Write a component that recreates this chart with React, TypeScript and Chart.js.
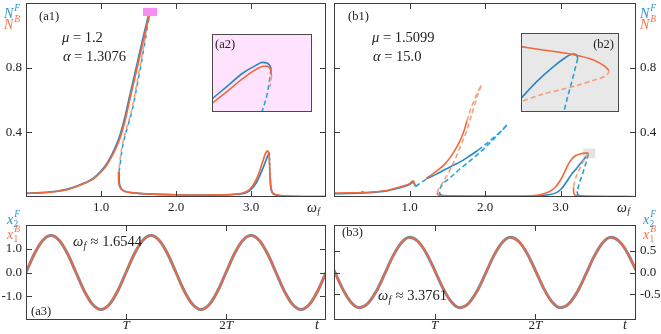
import React, { useEffect, useRef } from "react";
import { Chart, registerables } from "chart.js";
Chart.register(...registerables);

type P = [number, number];

// ---------- colours ----------
const C_BLUE = "#2a86c0";
const C_BLUE_DASH = "#27a0e0";
const C_ORANGE = "#f2673c";
const C_ORANGE_DASH = "#f4a07c";
const C_BLUE_TXT = "#2e95cf";
const C_ORANGE_TXT = "#f2724b";
const C_AXIS = "#3c3c3c";
const C_TEXT = "#222222";
const FONT = '"Liberation Serif", "Times New Roman", serif';

// ---------- (a1) data ----------
const a1XTicks = [1, 2, 3];
const a1XTickLabels = ["1.0", "2.0", "3.0"];
const a1YTicks = [0.4, 0.8];
const a1YTickLabels = ["0.4", "0.8"];
const a1RiseB: P[] = [[0, 0.022], [0.2, 0.026], [0.4, 0.034], [0.55, 0.046], [0.65, 0.06], [0.72, 0.073], [0.8, 0.088], [0.9, 0.112], [1.0, 0.155], [1.08, 0.2], [1.16, 0.265], [1.25, 0.36], [1.32, 0.472], [1.39, 0.615], [1.46, 0.755], [1.52, 0.877], [1.58, 0.998], [1.648, 1.13]];
const a1RiseF: P[] = [[0, 0.023], [0.2, 0.027], [0.4, 0.035], [0.54, 0.047], [0.64, 0.061], [0.71, 0.074], [0.79, 0.089], [0.89, 0.113], [0.99, 0.156], [1.07, 0.201], [1.15, 0.266], [1.238, 0.361], [1.308, 0.473], [1.378, 0.616], [1.448, 0.756], [1.508, 0.878], [1.568, 0.999], [1.636, 1.13]];
const a1UnstB: P[] = [[1.65, 1.125], [1.63, 1.1], [1.575, 0.95], [1.52, 0.805], [1.465, 0.67], [1.41, 0.54], [1.35, 0.44], [1.3, 0.355], [1.265, 0.27], [1.244, 0.19], [1.232, 0.155]];
const a1UnstF: P[] = [[1.658, 1.125], [1.638, 1.1], [1.583, 0.95], [1.528, 0.805], [1.473, 0.67], [1.418, 0.54], [1.358, 0.44], [1.308, 0.355], [1.273, 0.27], [1.252, 0.19], [1.24, 0.155]];
const a1LowB: P[] = [[1.232, 0.155], [1.235, 0.1], [1.245, 0.07], [1.27, 0.048], [1.32, 0.034], [1.4, 0.027], [1.5, 0.023], [1.7, 0.018], [2.0, 0.014], [2.3, 0.012], [2.6, 0.013], [2.8, 0.018], [2.9, 0.026], [2.98, 0.045], [3.05, 0.09], [3.1, 0.14], [3.15, 0.21], [3.19, 0.265], [3.22, 0.285], [3.24, 0.26], [3.25, 0.17], [3.26, 0.08], [3.28, 0.035], [3.33, 0.015], [3.45, 0.006], [3.7, 0.003], [4.0, 0.002]];
const a1LowF: P[] = [[1.24, 0.155], [1.243, 0.1], [1.253, 0.07], [1.278, 0.048], [1.33, 0.034], [1.4, 0.027], [1.5, 0.023], [1.7, 0.018], [2.0, 0.014], [2.3, 0.012], [2.6, 0.013], [2.8, 0.017], [2.9, 0.022], [2.98, 0.038], [3.06, 0.08], [3.12, 0.135], [3.17, 0.19], [3.21, 0.24], [3.245, 0.275]];
const a1PeakDashF: P[] = [[3.245, 0.275], [3.25, 0.2], [3.255, 0.13]];
const a1TailF: P[] = [[3.255, 0.13], [3.262, 0.07], [3.28, 0.03], [3.33, 0.013], [3.45, 0.006], [4.0, 0.002]];
const a1ZoomBoxX: P = [1.56, 1.75];
const a1ZoomBoxY: P = [1.12, 1.17];

// ---------- (a2) inset data (inset window coordinates) ----------
const a2SolidF: P[] = [[0, 0.167], [0.142, 0.32], [0.31, 0.5], [0.45, 0.605], [0.5, 0.636], [0.55, 0.627], [0.58, 0.59], [0.592, 0.55]];
const a2DashF: P[] = [[0.592, 0.55], [0.575, 0.4], [0.55, 0.22], [0.5, 0.0], [0.49, -0.05]];
const a2SolidB: P[] = [[0, 0.11], [0.142, 0.254], [0.31, 0.43], [0.46, 0.56], [0.53, 0.59], [0.57, 0.575], [0.588, 0.53], [0.595, 0.47]];
const a2DashB: P[] = [[0.595, 0.47], [0.59, 0.4], [0.58, 0.32]];

// ---------- (b1) data ----------
const b1XTicks = [1, 2, 3];
const b1XTickLabels = ["1.0", "2.0", "3.0"];
const b1YTicks = [0.4, 0.8];
const b1YTickLabels = ["0.4", "0.8"];
const b1LeftB: P[] = [[0, 0.024], [0.2, 0.026], [0.36, 0.028], [0.38, 0.034], [0.4, 0.028], [0.55, 0.032], [0.7, 0.04], [0.81, 0.054], [0.92, 0.068], [1.0, 0.083], [1.05, 0.1], [1.065, 0.085], [1.08, 0.068]];
const b1LeftF: P[] = [[0, 0.02], [0.2, 0.022], [0.4, 0.025], [0.55, 0.03], [0.7, 0.038], [0.81, 0.05], [0.92, 0.063], [1.0, 0.077], [1.05, 0.092], [1.065, 0.08], [1.08, 0.065]];
const b1KinkDashF: P[] = [[1.08, 0.065], [1.15, 0.088], [1.23, 0.113]];
const b1UpB: P[] = [[1.22, 0.115], [1.3, 0.14], [1.4, 0.175], [1.47, 0.205], [1.54, 0.245], [1.6, 0.288], [1.65, 0.33], [1.69, 0.37], [1.73, 0.42], [1.76, 0.47]];
const b1UpDashB: P[] = [[1.76, 0.47], [1.8, 0.53], [1.85, 0.59], [1.9, 0.645], [1.95, 0.69]];
const b1RetDashB: P[] = [[1.95, 0.69], [1.91, 0.64], [1.86, 0.565], [1.81, 0.49], [1.75, 0.4], [1.69, 0.33], [1.62, 0.25], [1.55, 0.18], [1.48, 0.12], [1.42, 0.075], [1.38, 0.045], [1.365, 0.025]];
const b1UpF: P[] = [[1.23, 0.113], [1.35, 0.14], [1.47, 0.17], [1.58, 0.196], [1.69, 0.222], [1.8, 0.255], [1.91, 0.29]];
const b1UpDashF: P[] = [[1.91, 0.29], [2.02, 0.33], [2.13, 0.373], [2.22, 0.41], [2.29, 0.445]];
const b1RetDashF: P[] = [[2.29, 0.445], [2.15, 0.375], [2.0, 0.305], [1.88, 0.255], [1.76, 0.208], [1.66, 0.17], [1.58, 0.136], [1.5, 0.105], [1.45, 0.085], [1.42, 0.065], [1.4, 0.045], [1.395, 0.03]];
const b1LowB: P[] = [[1.365, 0.025], [1.38, 0.013], [1.42, 0.009], [1.5, 0.007], [1.8, 0.005], [2.2, 0.004], [2.5, 0.005], [2.65, 0.009], [2.75, 0.016], [2.85, 0.032], [2.93, 0.06], [3.0, 0.105], [3.05, 0.15], [3.1, 0.2], [3.15, 0.235], [3.2, 0.255], [3.27, 0.268], [3.37, 0.272]];
const b1PeakDashB: P[] = [[3.37, 0.272], [3.34, 0.25], [3.29, 0.21], [3.25, 0.17], [3.21, 0.13], [3.185, 0.09], [3.172, 0.06]];
const b1TailB: P[] = [[3.172, 0.06], [3.175, 0.03], [3.185, 0.015], [3.2, 0.01], [3.3, 0.005], [3.6, 0.003], [4.0, 0.002]];
const b1LowF: P[] = [[1.395, 0.03], [1.41, 0.014], [1.45, 0.009], [1.6, 0.006], [2.0, 0.004], [2.5, 0.004], [2.7, 0.006], [2.82, 0.012], [2.93, 0.024], [3.0, 0.045], [3.06, 0.08], [3.15, 0.143], [3.21, 0.175], [3.26, 0.205], [3.32, 0.24], [3.37, 0.267]];
const b1PeakDashF: P[] = [[3.37, 0.267], [3.345, 0.225], [3.32, 0.184], [3.29, 0.14], [3.26, 0.1], [3.235, 0.06], [3.22, 0.035]];
const b1TailF: P[] = [[3.22, 0.035], [3.23, 0.015], [3.26, 0.008], [3.4, 0.004], [4.0, 0.002]];
const b1ZoomBoxX: P = [3.3, 3.46];
const b1ZoomBoxY: P = [0.24, 0.3];

// ---------- (b2) inset data (inset window coordinates) ----------
const b2SolidB: P[] = [[0, 0.828], [0.224, 0.785], [0.5, 0.734], [0.741, 0.657], [0.862, 0.571], [0.897, 0.528]];
const b2DashB: P[] = [[0.897, 0.528], [0.89, 0.49], [0.86, 0.455], [0.75, 0.405], [0.569, 0.335], [0.4, 0.28], [0.224, 0.227], [0, 0.129]];
const b2SolidF: P[] = [[0, 0.172], [0.155, 0.378], [0.328, 0.571], [0.466, 0.7], [0.534, 0.734], [0.569, 0.72], [0.579, 0.678]];
const b2DashF: P[] = [[0.579, 0.678], [0.517, 0.378], [0.448, 0.056], [0.435, -0.02]];

// ---------- (a3) / (b3) time series ----------
const tGrid = [0, 0.083, 0.167, 0.25, 0.333, 0.417, 0.5, 0.583, 0.667, 0.75, 0.833, 0.917, 1, 1.083, 1.167, 1.25, 1.333, 1.417, 1.5, 1.583, 1.667, 1.75, 1.833, 1.917, 2, 2.083, 2.167, 2.25, 2.333, 2.417, 2.5, 2.583, 2.667, 2.75, 2.833, 2.917, 3];
const a3X2F = [0, 0.78, 1.35, 1.56, 1.35, 0.78, 0, -0.78, -1.35, -1.56, -1.35, -0.78, 0, 0.78, 1.35, 1.56, 1.35, 0.78, 0, -0.78, -1.35, -1.56, -1.35, -0.78, 0, 0.78, 1.35, 1.56, 1.35, 0.78, 0, -0.78, -1.35, -1.56, -1.35, -0.78, 0];
const a3X1B = [0, 0.78, 1.35, 1.56, 1.35, 0.78, 0, -0.78, -1.35, -1.56, -1.35, -0.78, 0, 0.78, 1.35, 1.56, 1.35, 0.78, 0, -0.78, -1.35, -1.56, -1.35, -0.78, 0, 0.78, 1.35, 1.56, 1.35, 0.78, 0, -0.78, -1.35, -1.56, -1.35, -0.78, 0];
const b3X2F = [0.05, -0.36, -0.67, -0.8, -0.71, -0.44, -0.05, 0.36, 0.67, 0.8, 0.71, 0.44, 0.05, -0.36, -0.67, -0.8, -0.71, -0.44, -0.05, 0.36, 0.67, 0.8, 0.71, 0.44, 0.05, -0.36, -0.67, -0.8, -0.71, -0.44, -0.05, 0.36, 0.67, 0.8, 0.71, 0.44, 0.05];
const b3X1B = [0.05, -0.36, -0.67, -0.8, -0.71, -0.44, -0.05, 0.36, 0.67, 0.8, 0.71, 0.44, 0.05, -0.36, -0.67, -0.8, -0.71, -0.44, -0.05, 0.36, 0.67, 0.8, 0.71, 0.44, 0.05, -0.36, -0.67, -0.8, -0.71, -0.44, -0.05, 0.36, 0.67, 0.8, 0.71, 0.44, 0.05];
const tTicks = [1, 2];
const a3YTicks = [-1, 0, 1];
const a3YTickLabels = ["-1.0", "0.0", "1.0"];
const b3YTicks = [-0.5, 0, 0.5];
const b3YTickLabels = ["-0.5", "0.0", "0.5"];

// ---------- text helpers ----------
type Part = { t: string; it?: boolean; sup?: string; sub?: string };
type TextItem = { parts: Part[]; x: number; y: number; size: number; color?: string; align?: "left" | "center" | "right" };

const isLetter = (s: string) => /[A-Za-z]/.test(s);
const fontOf = (it: boolean | undefined, size: number) => `${it ? "italic " : ""}${size}px ${FONT}`;

function drawMath(ctx: CanvasRenderingContext2D, item: TextItem, ox: number, oy: number) {
  const { parts, size } = item;
  const small = size * 0.68;
  const widths = parts.map((p) => {
    ctx.font = fontOf(p.it, size);
    const w = ctx.measureText(p.t).width;
    let s = 0;
    if (p.sup) { ctx.font = fontOf(isLetter(p.sup), small); s = Math.max(s, ctx.measureText(p.sup).width); }
    if (p.sub) { ctx.font = fontOf(isLetter(p.sub), small); s = Math.max(s, ctx.measureText(p.sub).width); }
    return w + (s ? s + 1 : 0);
  });
  const total = widths.reduce((a, b) => a + b, 0);
  let x = item.x - ox;
  if (item.align === "center") x -= total / 2;
  else if (item.align === "right") x -= total;
  const y = item.y - oy;
  ctx.fillStyle = item.color || C_TEXT;
  ctx.textBaseline = "middle";
  ctx.textAlign = "left";
  parts.forEach((p, i) => {
    ctx.font = fontOf(p.it, size);
    ctx.fillText(p.t, x, y);
    const w = ctx.measureText(p.t).width;
    if (p.sup) { ctx.font = fontOf(isLetter(p.sup), small); ctx.fillText(p.sup, x + w + 1, y - size * 0.4); }
    if (p.sub) { ctx.font = fontOf(isLetter(p.sub), small); ctx.fillText(p.sub, x + w + 0.3, y + size * 0.32); }
    x += widths[i];
  });
}

// ---------- frame plugin ----------
type Box = { x: P; y: P; color: string; front?: boolean };
type FrameSpec = {
  ox: number; oy: number;
  fill?: string;
  border: string;
  tickLen: number;
  xTicks: number[]; yTicks: number[];
  xLabels?: Part[][]; yLabels?: string[];
  ySide?: "left" | "right";
  xLabelGap?: number;
  boxes?: Box[];
  texts: TextItem[];
};

function framePlugin(spec: FrameSpec) {
  const drawBoxes = (chart: any, front: boolean) => {
    const { ctx } = chart;
    const xs = chart.scales.x, ys = chart.scales.y;
    (spec.boxes || []).filter((b) => !!b.front === front).forEach((b) => {
      const x0 = xs.getPixelForValue(b.x[0]), x1 = xs.getPixelForValue(b.x[1]);
      const y0 = ys.getPixelForValue(b.y[1]), y1 = ys.getPixelForValue(b.y[0]);
      ctx.fillStyle = b.color;
      ctx.fillRect(x0, y0, x1 - x0, y1 - y0);
    });
  };
  return {
    id: "frame",
    beforeDatasetsDraw(chart: any) {
      const { ctx, chartArea: a } = chart;
      ctx.save();
      if (spec.fill) { ctx.fillStyle = spec.fill; ctx.fillRect(a.left, a.top, a.right - a.left, a.bottom - a.top); }
      drawBoxes(chart, false);
      ctx.restore();
    },
    afterDatasetsDraw(chart: any) {
      const { ctx, chartArea: a } = chart;
      const xs = chart.scales.x, ys = chart.scales.y;
      ctx.save();
      drawBoxes(chart, true);
      ctx.strokeStyle = spec.border;
      ctx.lineWidth = 1;
      ctx.strokeRect(a.left + 0.5, a.top + 0.5, a.right - a.left - 1, a.bottom - a.top - 1);
      ctx.beginPath();
      spec.xTicks.forEach((v) => {
        const px = Math.round(xs.getPixelForValue(v)) + 0.5;
        ctx.moveTo(px, a.bottom); ctx.lineTo(px, a.bottom - spec.tickLen);
        ctx.moveTo(px, a.top); ctx.lineTo(px, a.top + spec.tickLen);
      });
      spec.yTicks.forEach((v) => {
        const py = Math.round(ys.getPixelForValue(v)) + 0.5;
        ctx.moveTo(a.left, py); ctx.lineTo(a.left + spec.tickLen, py);
        ctx.moveTo(a.right, py); ctx.lineTo(a.right - spec.tickLen, py);
      });
      ctx.stroke();
      if (spec.xLabels) {
        spec.xTicks.forEach((v, i) => {
          drawMath(ctx, { parts: spec.xLabels![i], x: xs.getPixelForValue(v), y: a.bottom + (spec.xLabelGap || 11), size: 13, align: "center" }, 0, 0);
        });
      }
      if (spec.yLabels) {
        spec.yTicks.forEach((v, i) => {
          const left = spec.ySide !== "right";
          drawMath(ctx, { parts: [{ t: spec.yLabels![i] }], x: left ? a.left - 4 : a.right + 4, y: ys.getPixelForValue(v), size: 13, align: left ? "right" : "left" }, 0, 0);
        });
      }
      spec.texts.forEach((t) => drawMath(ctx, t, spec.ox, spec.oy));
      ctx.restore();
    },
  };
}

// ---------- dataset helper ----------
type LineOpts = { dash?: number[]; width?: number; offset?: number; mono?: boolean };
function line(data: P[], color: string, o: LineOpts = {}) {
  return {
    data: data.map(([x, y]) => ({ x, y })),
    borderColor: color,
    backgroundColor: color,
    borderWidth: o.width ?? 1.6,
    borderDash: o.dash ?? [],
    borderDashOffset: o.offset ?? 0,
    pointRadius: 0,
    pointHoverRadius: 0,
    showLine: true,
    fill: false,
    tension: 0.3,
    cubicInterpolationMode: o.mono === false ? "default" : "monotone",
  };
}
function series(t: number[], v: number[], color: string, o: LineOpts = {}) {
  return line(t.map((x, i) => [x, v[i]] as P), color, o);
}

type Layout = { left: number; top: number; width: number; height: number; padding: any };

function makeConfig(datasets: any[], xr: P, yr: P, layout: Layout, spec: FrameSpec) {
  return {
    type: "scatter",
    data: { datasets },
    options: {
      responsive: false,
      animation: false,
      events: [],
      layout: { padding: layout.padding },
      scales: {
        x: { type: "linear", min: xr[0], max: xr[1], display: false },
        y: { type: "linear", min: yr[0], max: yr[1], display: false },
      },
      plugins: { legend: { display: false }, tooltip: { enabled: false }, title: { display: false } },
    },
    plugins: [framePlugin(spec)],
  } as any;
}

// ---------- layouts ----------
const layA1: Layout = { left: 0, top: 0, width: 330, height: 216, padding: { left: 26, top: 3, right: 4, bottom: 19 } };
const layB1: Layout = { left: 330, top: 0, width: 331, height: 216, padding: { left: 4, top: 3, right: 25, bottom: 19 } };
const layA3: Layout = { left: 0, top: 210, width: 330, height: 124, padding: { left: 26, top: 15, right: 4, bottom: 14 } };
const layB3: Layout = { left: 330, top: 210, width: 331, height: 124, padding: { left: 4, top: 15, right: 25, bottom: 14 } };
const layA2: Layout = { left: 212, top: 34, width: 100, height: 78, padding: 0 };
const layB2: Layout = { left: 521, top: 33, width: 98, height: 79, padding: 0 };

const DASH = [5, 3];
const numParts = (labels: string[]) => labels.map((s) => [{ t: s }] as Part[]);
const tParts: Part[][] = [[{ t: "T", it: true }], [{ t: "2" }, { t: "T", it: true }]];

function cfgA1() {
  const ds = [
    line(a1RiseB, C_ORANGE, { width: 1.7 }),
    line(a1UnstB, C_ORANGE_DASH, { dash: [4, 4] }),
    line(a1LowB, C_ORANGE, { width: 1.7 }),
    line(a1RiseF, C_BLUE, { width: 1.7 }),
    line(a1UnstF, C_BLUE_DASH, { dash: [4, 4], offset: 4 }),
    line(a1LowF, C_BLUE, { width: 1.7 }),
    line(a1PeakDashF, C_BLUE_DASH, { dash: [3, 2] }),
    line(a1TailF, C_BLUE, { width: 1.7 }),
  ];
  const spec: FrameSpec = {
    ox: layA1.left, oy: layA1.top, border: C_AXIS, tickLen: 6,
    xTicks: a1XTicks, yTicks: a1YTicks, xLabels: numParts(a1XTickLabels), yLabels: a1YTickLabels, ySide: "left",
    boxes: [{ x: a1ZoomBoxX, y: a1ZoomBoxY, color: "#f48ef2", front: true }],
    texts: [
      { parts: [{ t: "(a1)" }], x: 39, y: 17, size: 12.5 },
      { parts: [{ t: "μ", it: true }, { t: " = 1.2" }], x: 62, y: 38, size: 14.5 },
      { parts: [{ t: "α", it: true }, { t: " = 1.3076" }], x: 63, y: 57, size: 14.5 },
      { parts: [{ t: "N", it: true, sup: "F" }], x: 4, y: 14, size: 14, color: C_BLUE_TXT },
      { parts: [{ t: "N", it: true, sup: "B" }], x: 4, y: 25, size: 14, color: C_ORANGE_TXT },
      { parts: [{ t: "ω", it: true, sub: "f" }], x: 307, y: 208, size: 14 },
    ],
  };
  return makeConfig(ds, [0, 4], [0, 1.2], layA1, spec);
}

function cfgA2() {
  const ds = [
    line(a2SolidB, C_ORANGE, { width: 1.6 }),
    line(a2DashB, C_ORANGE_DASH, { dash: DASH }),
    line(a2SolidF, C_BLUE, { width: 1.6 }),
    line(a2DashF, C_BLUE_DASH, { dash: DASH }),
  ];
  const spec: FrameSpec = {
    ox: layA2.left, oy: layA2.top, fill: "#ffe3fe", border: "#4a4a4a", tickLen: 0,
    xTicks: [], yTicks: [],
    texts: [{ parts: [{ t: "(a2)" }], x: 215, y: 45, size: 12.5 }],
  };
  return makeConfig(ds, [0, 1], [0, 1], layA2, spec);
}

function cfgB1() {
  const ds = [
    line(b1LeftB, C_ORANGE),
    line(b1UpB, C_ORANGE),
    line(b1UpDashB, C_ORANGE_DASH, { dash: DASH }),
    line(b1RetDashB, C_ORANGE_DASH, { dash: DASH }),
    line(b1LowB, C_ORANGE),
    line(b1PeakDashB, C_ORANGE_DASH, { dash: DASH }),
    line(b1TailB, C_ORANGE),
    line(b1LeftF, C_BLUE),
    line(b1KinkDashF, C_BLUE_DASH, { dash: DASH }),
    line(b1UpF, C_BLUE),
    line(b1UpDashF, C_BLUE_DASH, { dash: DASH }),
    line(b1RetDashF, C_BLUE_DASH, { dash: DASH }),
    line(b1LowF, C_BLUE),
    line(b1PeakDashF, C_BLUE_DASH, { dash: DASH }),
    line(b1TailF, C_BLUE),
  ];
  const spec: FrameSpec = {
    ox: layB1.left, oy: layB1.top, border: C_AXIS, tickLen: 6,
    xTicks: b1XTicks, yTicks: b1YTicks, xLabels: numParts(b1XTickLabels), yLabels: b1YTickLabels, ySide: "right",
    boxes: [{ x: b1ZoomBoxX, y: b1ZoomBoxY, color: "#e3e3e3" }],
    texts: [
      { parts: [{ t: "(b1)" }], x: 348, y: 17, size: 12.5 },
      { parts: [{ t: "μ", it: true }, { t: " = 1.5099" }], x: 372, y: 38, size: 14.5 },
      { parts: [{ t: "α", it: true }, { t: " = 15.0" }], x: 373, y: 57, size: 14.5 },
      { parts: [{ t: "N", it: true, sup: "F" }], x: 640, y: 14, size: 14, color: C_BLUE_TXT },
      { parts: [{ t: "N", it: true, sup: "B" }], x: 640, y: 25, size: 14, color: C_ORANGE_TXT },
      { parts: [{ t: "ω", it: true, sub: "f" }], x: 617, y: 208, size: 14 },
    ],
  };
  return makeConfig(ds, [0, 4], [0, 1.2], layB1, spec);
}

function cfgB2() {
  const ds = [
    line(b2SolidB, C_ORANGE, { width: 1.6 }),
    line(b2DashB, C_ORANGE_DASH, { dash: DASH, mono: false }),
    line(b2SolidF, C_BLUE, { width: 1.6 }),
    line(b2DashF, C_BLUE_DASH, { dash: DASH }),
  ];
  const spec: FrameSpec = {
    ox: layB2.left, oy: layB2.top, fill: "#e8e8e8", border: "#4a4a4a", tickLen: 0,
    xTicks: [], yTicks: [],
    texts: [{ parts: [{ t: "(b2)" }], x: 614, y: 45, size: 12.5, align: "right" }],
  };
  return makeConfig(ds, [0, 1], [0, 1], layB2, spec);
}

function cfgA3() {
  const ds = [
    series(tGrid, a3X1B, C_ORANGE, { width: 1.8 }),
    series(tGrid, a3X2F, "#5f8fb0", { width: 3 }),
  ];
  const spec: FrameSpec = {
    ox: layA3.left, oy: layA3.top, border: C_AXIS, tickLen: 6, xLabelGap: 5.5,
    xTicks: tTicks, yTicks: a3YTicks, xLabels: tParts, yLabels: a3YTickLabels, ySide: "left",
    texts: [
      { parts: [{ t: "ω", it: true, sub: "f" }, { t: " ≈ 1.6544" }], x: 73, y: 242, size: 14.5 },
      { parts: [{ t: "(a3)" }], x: 31, y: 312, size: 12.5 },
      { parts: [{ t: "x", it: true, sup: "F", sub: "2" }], x: 7, y: 220, size: 14, color: C_BLUE_TXT },
      { parts: [{ t: "x", it: true, sup: "B", sub: "1" }], x: 7, y: 235, size: 14, color: C_ORANGE_TXT },
      { parts: [{ t: "t", it: true }], x: 315, y: 325.5, size: 14 },
    ],
  };
  return makeConfig(ds, [0, 3], [-2, 2], layA3, spec);
}

function cfgB3() {
  const ds = [
    series(tGrid, b3X1B, C_ORANGE, { width: 1.8 }),
    series(tGrid, b3X2F, "#5f8fb0", { width: 3 }),
  ];
  const spec: FrameSpec = {
    ox: layB3.left, oy: layB3.top, border: C_AXIS, tickLen: 6, xLabelGap: 5.5,
    xTicks: tTicks, yTicks: b3YTicks, xLabels: tParts, yLabels: b3YTickLabels, ySide: "right",
    texts: [
      { parts: [{ t: "(b3)" }], x: 342, y: 233, size: 12.5 },
      { parts: [{ t: "ω", it: true, sub: "f" }, { t: " ≈ 3.3761" }], x: 378, y: 296, size: 14.5 },
      { parts: [{ t: "x", it: true, sup: "F", sub: "2" }], x: 643, y: 220, size: 14, color: C_BLUE_TXT },
      { parts: [{ t: "x", it: true, sup: "B", sub: "1" }], x: 643, y: 235, size: 14, color: C_ORANGE_TXT },
      { parts: [{ t: "t", it: true }], x: 623, y: 325.5, size: 14 },
    ],
  };
  return makeConfig(ds, [0, 3], [-1.08, 1.08], layB3, spec);
}

function ChartCanvas({ lay, build }: { lay: Layout; build: () => any }) {
  const ref = useRef<HTMLCanvasElement>(null);
  useEffect(() => {
    const chart = new Chart(ref.current as HTMLCanvasElement, build());
    return () => chart.destroy();
  }, []);
  return (
    <canvas
      ref={ref}
      width={lay.width}
      height={lay.height}
      style={{ position: "absolute", left: lay.left, top: lay.top, width: lay.width, height: lay.height }}
    />
  );
}

export default function App() {
  return (
    <div style={{ position: "fixed", left: 0, top: 0, width: 661, height: 334, background: "#ffffff", overflow: "hidden" }}>
      <ChartCanvas lay={layA1} build={cfgA1} />
      <ChartCanvas lay={layB1} build={cfgB1} />
      <ChartCanvas lay={layA3} build={cfgA3} />
      <ChartCanvas lay={layB3} build={cfgB3} />
      <ChartCanvas lay={layA2} build={cfgA2} />
      <ChartCanvas lay={layB2} build={cfgB2} />
    </div>
  );
}
